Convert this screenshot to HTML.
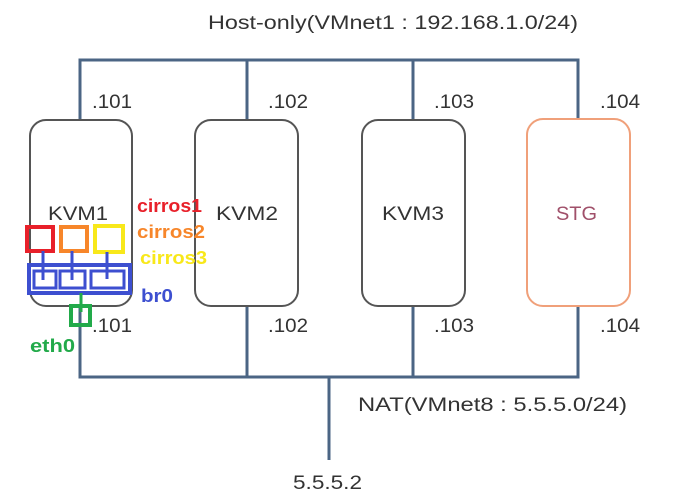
<!DOCTYPE html>
<html><head><meta charset="utf-8"><style>
html,body{margin:0;padding:0;background:#fff;}
svg{display:block;}
text{font-family:"Liberation Sans","DejaVu Sans",sans-serif;}
</style></head><body>
<svg width="680" height="501" viewBox="0 0 680 501" xmlns="http://www.w3.org/2000/svg">
<g stroke="#4b6584" stroke-width="3" fill="none">
<polyline points="80,120 80,60 578,60 578,120"/>
<line x1="247" y1="60" x2="247" y2="120"/>
<line x1="413" y1="60" x2="413" y2="120"/>
<polyline points="80,306 80,377 578,377 578,306"/>
<line x1="247" y1="306" x2="247" y2="377"/>
<line x1="413" y1="306" x2="413" y2="377"/>
<line x1="329" y1="377" x2="329" y2="460"/>
</g>
<g fill="#fff" stroke="#555" stroke-width="2">
<rect x="30" y="120" width="102" height="186" rx="16"/>
<rect x="195" y="120" width="103" height="186" rx="16"/>
<rect x="362" y="120" width="103" height="186" rx="16"/>
</g>
<rect x="527" y="119" width="103" height="187" rx="16" fill="#fff" stroke="#f0a07a" stroke-width="2"/>
<g font-size="19" fill="#333">
<text x="208" y="29" textLength="370" lengthAdjust="spacingAndGlyphs">Host-only(VMnet1 : 192.168.1.0/24)</text>
<text x="92" y="108" textLength="40" lengthAdjust="spacingAndGlyphs">.101</text>
<text x="268" y="108" textLength="40" lengthAdjust="spacingAndGlyphs">.102</text>
<text x="434" y="108" textLength="40" lengthAdjust="spacingAndGlyphs">.103</text>
<text x="600" y="108" textLength="40" lengthAdjust="spacingAndGlyphs">.104</text>
<text x="92" y="332" textLength="40" lengthAdjust="spacingAndGlyphs">.101</text>
<text x="268" y="332" textLength="40" lengthAdjust="spacingAndGlyphs">.102</text>
<text x="434" y="332" textLength="40" lengthAdjust="spacingAndGlyphs">.103</text>
<text x="600" y="332" textLength="40" lengthAdjust="spacingAndGlyphs">.104</text>
<text x="358" y="411" textLength="269" lengthAdjust="spacingAndGlyphs">NAT(VMnet8 : 5.5.5.0/24)</text>
<text x="293" y="489" textLength="69" lengthAdjust="spacingAndGlyphs">5.5.5.2</text>
<text x="48" y="220" textLength="60" lengthAdjust="spacingAndGlyphs">KVM1</text>
<text x="216" y="220" textLength="62" lengthAdjust="spacingAndGlyphs">KVM2</text>
<text x="382" y="220" textLength="62" lengthAdjust="spacingAndGlyphs">KVM3</text>
<text x="556" y="220" fill="#a0506a" textLength="41" lengthAdjust="spacingAndGlyphs">STG</text>
</g>
<g stroke-width="4" fill="none">
<rect x="27" y="227" width="26" height="24" stroke="#e8202a"/>
<rect x="61" y="227" width="26" height="24" stroke="#f7862a"/>
<rect x="95" y="226" width="28" height="26" stroke="#f8e81a"/>
<g stroke="#3d4fd0">
<rect x="29" y="265" width="101" height="28"/>
<rect x="34" y="271" width="22" height="17" stroke-width="3"/>
<rect x="60" y="271" width="25" height="17" stroke-width="3"/>
<rect x="91" y="271" width="33" height="17" stroke-width="3"/>
<line x1="43" y1="251" x2="43" y2="280" stroke-width="3"/>
<line x1="72" y1="251" x2="72" y2="280" stroke-width="3"/>
<line x1="107" y1="252" x2="107" y2="279" stroke-width="3"/>
</g>
<rect x="71" y="306" width="19" height="19" stroke="#22aa4a"/>
<line x1="81" y1="293" x2="81" y2="312" stroke="#22aa4a" stroke-width="3"/>
</g>
<g font-size="18" font-weight="bold">
<text x="137" y="212" fill="#e8202a" textLength="65" lengthAdjust="spacingAndGlyphs">cirros1</text>
<text x="137" y="238" fill="#f7862a" textLength="68" lengthAdjust="spacingAndGlyphs">cirros2</text>
<text x="140" y="264" fill="#f8e81a" textLength="67" lengthAdjust="spacingAndGlyphs">cirros3</text>
<text x="141" y="302" fill="#3d4fd0" textLength="32" lengthAdjust="spacingAndGlyphs">br0</text>
<text x="30" y="352" fill="#22aa4a" textLength="45" lengthAdjust="spacingAndGlyphs">eth0</text>
</g>
</svg>
</body></html>
